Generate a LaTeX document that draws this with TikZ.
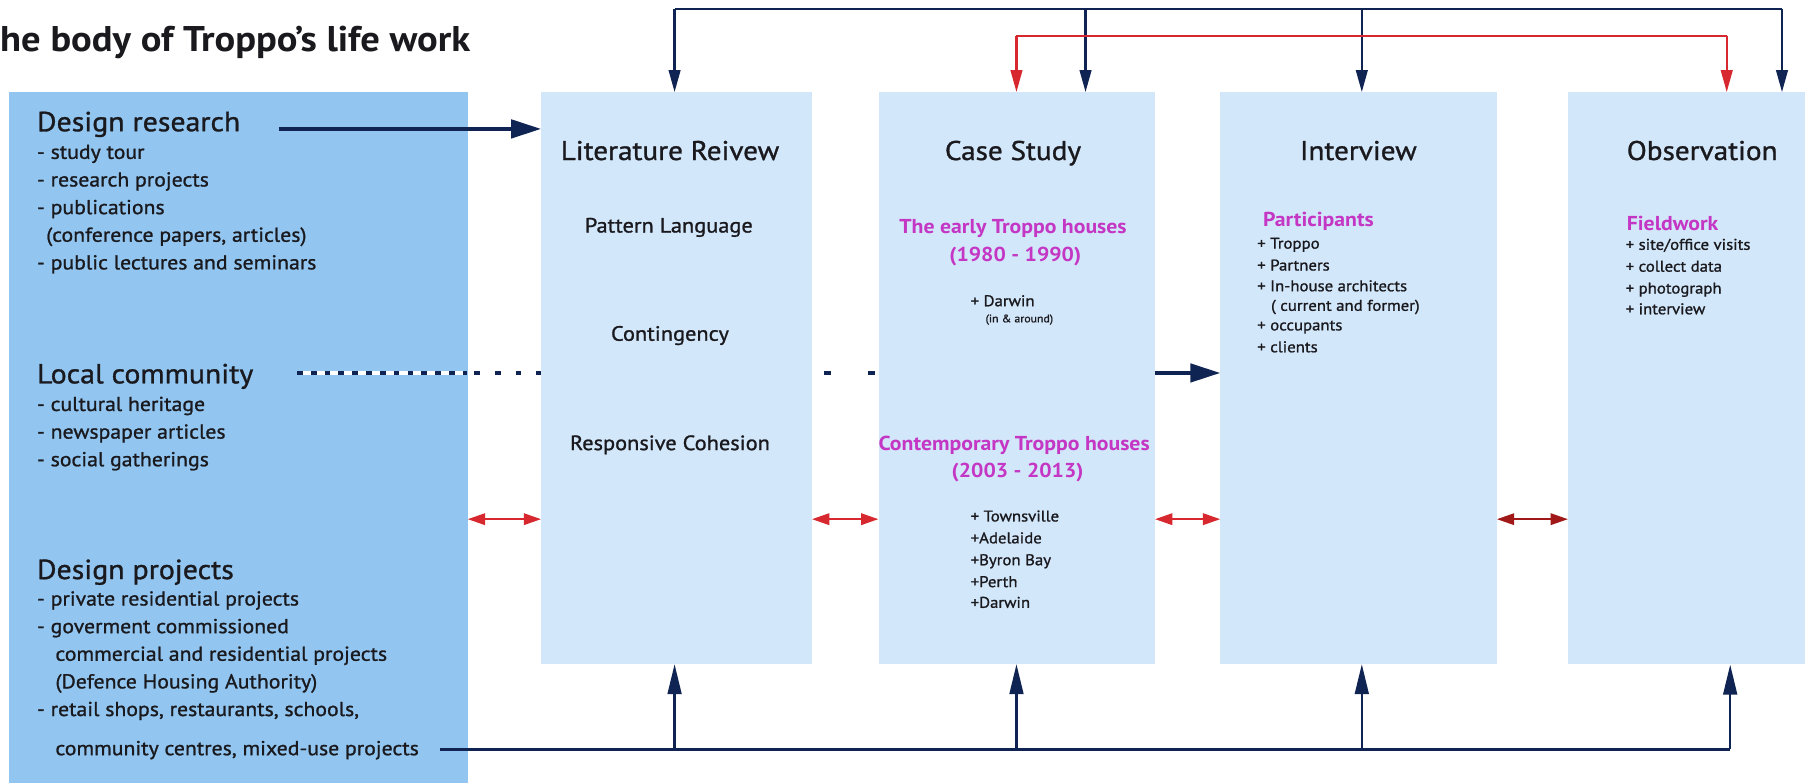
\documentclass[tikz,border=0pt]{standalone}
\usepackage{fontspec}
\setmainfont{PT Sans}[FakeStretch=1.08, FakeBold=1.1, BoldFeatures={FakeBold=0}]
\usetikzlibrary{arrows.meta}
\definecolor{navy}{RGB}{16,36,84}
\definecolor{srcblue}{RGB}{146,198,240}
\definecolor{boxblue}{RGB}{211,231,250}
\definecolor{mag}{RGB}{196,54,196}
\definecolor{redA}{RGB}{214,40,46}
\definecolor{redB}{RGB}{160,24,24}
\definecolor{ink}{RGB}{25,25,30}
\tikzset{
  lbox/.style={fill=boxblue, draw=none, anchor=north west, minimum height=497pt, inner sep=0pt},
  ttl/.style={font=\bfseries\fontsize{31}{35}\selectfont, text=ink, anchor=base west, inner sep=0pt},
  lh/.style={font=\fontsize{24}{28}\selectfont, text=ink, anchor=base west, inner sep=0pt},
  li/.style={font=\fontsize{17.5}{20}\selectfont, text=ink, anchor=base west, inner sep=0pt},
  bt/.style={font=\fontsize{23.5}{27}\selectfont, text=ink, anchor=base, inner sep=0pt},
  bi/.style={font=\fontsize{18}{21}\selectfont, text=ink, anchor=base, inner sep=0pt},
  mg/.style={font=\bfseries\fontsize{17.5}{21}\selectfont, text=mag, anchor=base, inner sep=0pt},
  mgl/.style={mg, anchor=base west},
  si/.style={font=\fontsize{13.5}{16}\selectfont, text=ink, anchor=base west, inner sep=0pt},
  tiny/.style={font=\fontsize{9.5}{11}\selectfont, text=ink, anchor=base west, inner sep=0pt},
  nline/.style={draw=navy, line width=2pt},
  ndown/.style={nline, -{Triangle[length=19pt,width=10pt]}},
  rline/.style={draw=redA, line width=2pt},
  rdown/.style={rline, -{Triangle[length=19pt,width=10pt]}},
  nup/.style={draw=navy, line width=2pt, -{Triangle[length=26pt,width=12pt]}},
  nbig/.style={draw=navy, line width=3pt, -{Triangle[length=26pt,width=16pt]}},
  dbl/.style={draw=redA, line width=1.6pt, {Triangle[length=15pt,width=10pt]}-{Triangle[length=15pt,width=10pt]}},
  dblB/.style={dbl, draw=redB},
}
\begin{document}
\begin{tikzpicture}[x=1pt,y=-1pt]
\useasboundingbox (0,0) rectangle (1568,680);
\clip (0,0) rectangle (1568,680);
\fill[white] (0,0) rectangle (1568,680);

% source panel
\node[fill=srcblue, draw=none, anchor=north west, minimum width=398pt, minimum height=610pt, inner sep=0pt] (src) at (8,80) {};

% dotted line from Local community (behind method boxes)
\coordinate (lc0) at (258,324);
\coordinate (lc1) at (406,324);
\draw[white, line width=3pt] (lc0) -- (lc1);
\draw[navy, line width=3pt, dash pattern=on 5pt off 7pt] (lc0) -- (lc1);
\draw[navy, line width=3pt, dash pattern=on 5pt off 13pt] (412,324) -- (470,324);
\draw[navy, line width=3pt, dash pattern=on 6pt off 32pt] (716,324) -- (763,324);

% method boxes
\node[lbox, minimum width=235pt] (lit) at (470,80) {};
\node[lbox, minimum width=240pt] (cs) at (763,80) {};
\node[lbox, minimum width=240pt] (iv) at (1060,80) {};
\node[lbox, minimum width=240pt] (ob) at (1362,80) {};

% title
\node[ttl] (title) at (0,45) {he body of Troppo’s life work};

% left panel text
\node[lh] (dr) at (32,114) {Design research};
\node[li] (dr1) at (32,138) {- study tour};
\node[li] (dr2) at (32,162) {- research projects};
\node[li] (dr3) at (32,186) {- publications};
\node[li] (dr4) at (40,210) {(conference papers, articles)};
\node[li] (dr5) at (32,234) {- public lectures and seminars};

\node[lh] (lcm) at (32,333) {Local community};
\node[li] (lc1t) at (32,357) {- cultural heritage};
\node[li] (lc2t) at (32,381) {- newspaper articles};
\node[li] (lc3t) at (32,405) {- social gatherings};

\node[lh] (dp) at (32,503) {Design projects};
\node[li] (dp1) at (32,526) {- private residential projects};
\node[li] (dp2) at (32,550) {- goverment commissioned};
\node[li] (dp3) at (48,574) {commercial and residential projects};
\node[li] (dp4) at (48,598) {(Defence Housing Authority)};
\node[li] (dp5) at (32,622) {- retail shops, restaurants, schools,};
\node[li] (dp6) at (48,656) {community centres, mixed-use projects};

% Literature review
\node[bt] (litT) at (582,139) {Literature Reivew};
\node[bi] (lit1) at (581,202) {Pattern Language};
\node[bi] (lit2) at (582,296) {Contingency};
\node[bi] (lit3) at (582,391) {Responsive Cohesion};

% Case study
\node[bt] (csT) at (880,139) {Case Study};
\node[mg] (cs1) at (880,203) {The early Troppo houses};
\node[mg] (cs2) at (882,227) {(1980 - 1990)};
\node[si] (cs3) at (843,266) {+ Darwin};
\node[tiny] (cs4) at (856,280) {(in \& around)};
\node[mg] (cs5) at (881,391) {Contemporary Troppo houses};
\node[mg] (cs6) at (884,415) {(2003 - 2013)};
\node[si] (cs7) at (843,453) {+ Townsville};
\node[si] (cs8) at (843,472) {+Adelaide};
\node[si] (cs9) at (843,491) {+Byron Bay};
\node[si] (cs10) at (843,510) {+Perth};
\node[si] (cs11) at (843,528) {+Darwin};

% Interview
\node[bt] (ivT) at (1180,139) {Interview};
\node[mgl] (iv1) at (1097,197) {Participants};
\node[si] (iv2) at (1092,216) {+ Troppo};
\node[si] (iv3) at (1092,235) {+ Partners};
\node[si] (iv4) at (1092,253) {+ In-house architects};
\node[si] (iv5) at (1104,270) {( current and former)};
\node[si] (iv6) at (1092,287) {+ occupants};
\node[si] (iv7) at (1092,306) {+ clients};

% Observation
\node[bt, anchor=base west] (obT) at (1413,139) {Observation};
\node[mgl] (ob1) at (1413,200) {Fieldwork};
\node[si] (ob2) at (1412,217) {+ site/office visits};
\node[si] (ob3) at (1412,236) {+ collect data};
\node[si] (ob4) at (1412,255) {+ photograph};
\node[si] (ob5) at (1412,273) {+ interview};

% Design research arrow
\coordinate (drA) at (242,112);
\draw[nbig] (drA) -- (drA -| lit.west);

% Local community -> Interview
\coordinate (lcA) at (1003,324);
\draw[nbig] (lcA) -- (lcA -| iv.west);

% top navy bus
\coordinate (busL) at (586,8);
\coordinate (busR) at (1548,8);
\draw[nline] (busL) -- (busR);
\draw[ndown] (busL) -- (busL |- lit.north);
\draw[ndown] (943,8) -- (943,80);
\draw[ndown] (1183,8) -- (1183,80);
\draw[ndown] (busR) -- (busR |- ob.north);

% top red bus
\coordinate (rL) at (883,31);
\coordinate (rR) at (1500,31);
\draw[rline] (rL) -- (rR);
\draw[rdown] (rL) -- (rL |- cs.north);
\draw[rdown] (rR) -- (rR |- ob.north);

% bottom navy bus
\coordinate (bL) at (382,651);
\coordinate (bR) at (1503,651);
\draw[draw=navy, line width=3pt] (bL) -- (bR);
\draw[nup] (586,651) -- (586,577);
\draw[nup] (883,651) -- (883,577);
\draw[nup] (1183,651) -- (1183,577);
\draw[nup] (bR) -- (bR |- ob.south);

% red double arrows
\coordinate (dY) at (0,451);
\draw[dbl] (src.east |- dY) -- (lit.west |- dY);
\draw[dbl] (lit.east |- dY) -- (cs.west |- dY);
\draw[dbl] (cs.east |- dY) -- (iv.west |- dY);
\draw[dblB] (iv.east |- dY) -- (ob.west |- dY);
\end{tikzpicture}
\end{document}
